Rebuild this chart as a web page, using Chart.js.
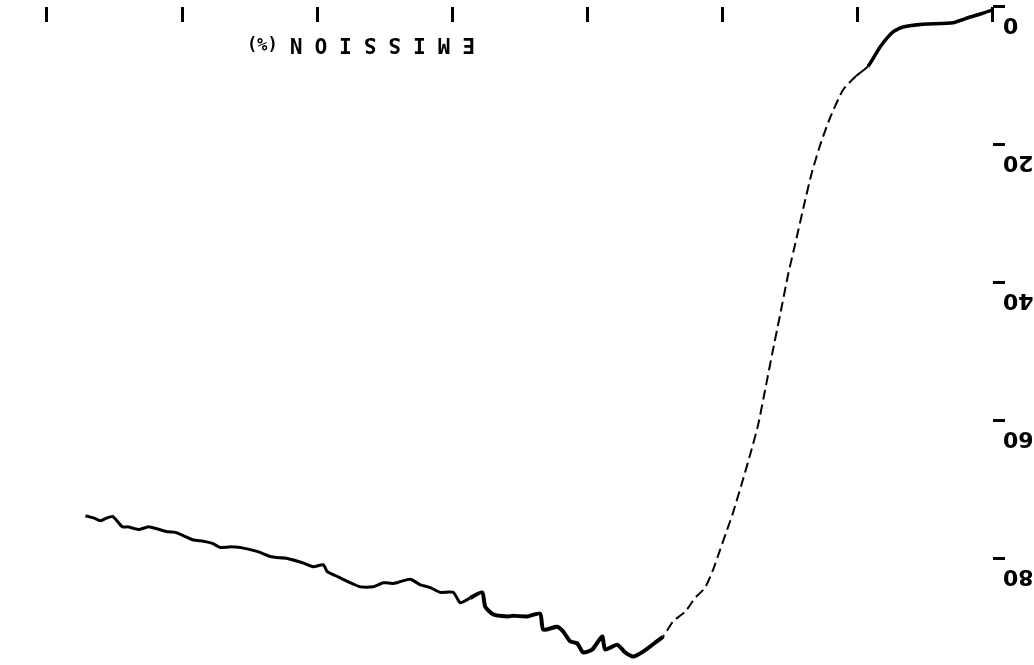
<!DOCTYPE html>
<html>
<head>
<meta charset="utf-8">
<script src="https://cdn.jsdelivr.net/npm/chart.js@4/dist/chart.umd.min.js"></script>
<style>
  html, body { margin: 0; padding: 0; background: #ffffff; }
  #wrap {
    position: relative; width: 1034px; height: 665px; overflow: hidden;
    transform: rotate(180deg); background: #ffffff;
  }
  #c { position: absolute; left: 0; top: 0; }
  #label {
    position: absolute; left: 559px; top: 610px;
    font: bold 21px "DejaVu Sans Mono", monospace; line-height: 21px;
    white-space: pre; color: #000;
  }
  #label .w { letter-spacing: 12px; }
  #label .p { letter-spacing: 0px; font-size: 17px; }
</style>
</head>
<body>
<div id="wrap">
  <canvas id="c" width="1034" height="665"></canvas>
  <div id="label"><span class="w">EMISSION</span><span class="p">(%)</span></div>
</div>
<script>
// ---- data read from the (upside-down) scanned plot ----
const xPos = [0.00, 0.074, 0.192, 0.296, 0.518, 0.666, 0.740, 0.836, 0.925, 1.013,
  1.109, 1.198, 1.272, 1.339, 1.398, 1.457, 1.516, 1.575, 1.635, 1.686,
  1.738, 1.797, 1.857, 1.923, 1.967, 2.019, 2.071, 2.130, 2.204, 2.278,
  2.367, 2.441, 2.500, 2.589, 2.663, 2.722, 2.781, 2.870, 2.892, 2.966,
  3.033, 3.077, 3.129, 3.180, 3.225, 3.328, 3.351, 3.447, 3.550, 3.595,
  3.698, 3.757, 3.780, 3.868, 3.942, 3.994, 4.090, 4.164, 4.238, 4.312,
  4.438, 4.512, 4.586, 4.682, 4.778, 4.852, 4.926, 4.956, 5.030, 5.111,
  5.222, 5.348, 5.422, 5.496, 5.570, 5.643, 5.717, 5.777, 5.843, 5.917,
  5.976, 6.050, 6.109, 6.183, 6.250, 6.324, 6.398, 6.442, 6.479, 6.516,
  6.568, 6.605, 6.657, 6.716];
const emission = [0.4, 0.9, 1.6, 2.3, 2.5, 2.9, 3.6, 5.8, 8.6, 10.0,
  12.0, 15.7, 19.6, 23.9, 28.7, 33.8, 38.8, 44.6, 50.4, 55.5,
  60.6, 64.9, 69.0, 73.3, 75.8, 78.7, 81.6, 84.2, 85.7, 87.7,
  89.1, 91.3, 92.2, 93.5, 94.2, 93.6, 92.5, 93.2, 91.3, 93.2,
  93.6, 92.3, 92.0, 90.6, 89.9, 90.3, 88.0, 88.4, 88.3, 88.4,
  88.1, 87.0, 84.9, 85.7, 86.4, 84.9, 84.9, 84.2, 83.8, 83.0,
  83.6, 83.5, 84.1, 84.1, 83.3, 82.6, 81.9, 80.9, 81.2, 80.6,
  80.0, 79.7, 79.1, 78.7, 78.4, 78.3, 78.4, 77.8, 77.5, 77.3,
  76.8, 76.2, 76.1, 75.7, 75.4, 75.8, 75.4, 75.4, 74.6, 73.9,
  74.2, 74.5, 74.1, 73.8];
const xTickValues = [0, 1, 2, 3, 4, 5, 6, 7];
const yTickLabels = [0, 20, 40, 60, 80];

const points = xPos.map((x, i) => ({ x: x, y: emission[i] }));

new Chart(document.getElementById('c'), {
  type: 'line',
  data: {
    datasets: [{
      data: points,
      borderColor: '#000',
      borderWidth: 3,
      pointRadius: 0,
      tension: 0.2,
      fill: false,
      segment: {
        borderWidth: ctx => {
          const x = ctx.p0.parsed.x;
          if (x < 0.9) return 3.5;
          if (x < 2.4) return 2;
          if (x < 3.8) return 4;
          return 3;
        },
        borderDash: ctx => {
          const x = ctx.p0.parsed.x;
          return (x >= 0.95 && x < 2.4) ? [10, 5] : undefined;
        }
      }
    }]
  },
  options: {
    responsive: false,
    animation: false,
    devicePixelRatio: 1,
    layout: { padding: { left: 0, right: 47, top: 3, bottom: 7 } },
    plugins: { legend: { display: false }, tooltip: { enabled: false }, title: { display: false } },
    scales: {
      x: {
        type: 'linear',
        position: 'bottom',
        min: 0, max: 7,
        afterBuildTicks: s => { s.ticks = xTickValues.map(v => ({ value: v })); },
        afterFit: s => { s.height = 0; s.paddingLeft = 0; s.paddingRight = 0; },
        ticks: { display: false },
        grid: {
          drawOnChartArea: false, drawTicks: true, tickLength: -15,
          tickColor: '#000', tickWidth: 3
        },
        border: { display: false }
      },
      y: {
        type: 'linear',
        position: 'left',
        min: 0, max: 95,
        afterBuildTicks: s => { s.ticks = yTickLabels.map(v => ({ value: v })); },
        afterFit: s => { s.width = 41; s.paddingTop = 0; s.paddingBottom = 0; },
        ticks: {
          color: '#000', padding: -2, labelOffset: -17,
          font: { family: 'DejaVu Sans', size: 22, weight: 'bold' }
        },
        grid: {
          drawOnChartArea: false, drawTicks: true, tickLength: 12,
          tickColor: '#000', tickWidth: 3
        },
        border: { display: false }
      }
    }
  }
});
</script>
</body>
</html>
